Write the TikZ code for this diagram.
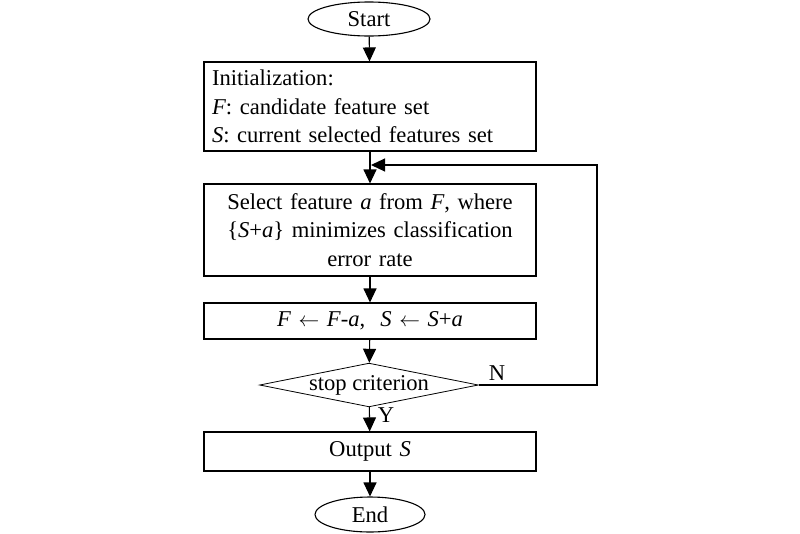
\documentclass[tikz,border=0pt]{standalone}
\usepackage{fontspec}
\setmainfont{Liberation Serif}
\usetikzlibrary{shapes.geometric,arrows.meta}
\begin{document}
\begin{tikzpicture}[x=1pt,y=-1pt,
  font=\fontsize{22.6}{28.5}\selectfont,
  line width=1.1pt,
  term/.style={draw,ellipse,inner sep=0pt},
  box/.style={draw,rectangle,minimum width=332pt,text width=316pt,inner xsep=8pt,inner ysep=0pt},
  dia/.style={draw,diamond,aspect=5,inner sep=0pt,line width=0.8pt},
  arr/.style={-{Triangle[width=13pt,length=14pt]}},
  lbl/.style={inner sep=0pt}]
\useasboundingbox (0,0) rectangle (800,533);
\node[term,minimum width=122pt,minimum height=34pt] (start) at (369,19) {Start};
\node[box,minimum height=89pt,align=left] (init) at (370,106.5) {Initialization:\\\textit{F}: candidate feature set\\\textit{S}: current selected features set};
\node[box,minimum height=92pt,align=center] (sel) at (370,230) {Select feature \textit{a} from \textit{F}, where\\\{\textit{S}+\textit{a}\} minimizes classification\\error rate};
\node[box,minimum height=36pt,align=center] (upd) at (370,321) {\textit{F} $\leftarrow$ \textit{F}-\textit{a},\ \ \textit{S} $\leftarrow$ \textit{S}+\textit{a}};
\node[dia] (stop) at (369,385) {stop criterion};
\node[box,minimum height=39pt,align=center] (out) at (370,451.5) {Output \textit{S}};
\node[term,minimum width=110pt,minimum height=35pt] (end) at (370,514.5) {End};
\node[lbl] (nlab) at (497,373) {N};
\node[lbl] (ylab) at (386,415) {Y};
\coordinate (fb) at (371,165);
\coordinate (corner) at (597,165);
\draw[arr] (start) -- (init);
\draw[arr] (init) -- (sel);
\draw[arr] (sel) -- (upd);
\draw[arr] (upd) -- (stop);
\draw[arr] (stop) -- (out);
\draw[arr] (out) -- (end);
\draw[arr] (stop.east) -| (corner) -- (fb);
\end{tikzpicture}
\end{document}
